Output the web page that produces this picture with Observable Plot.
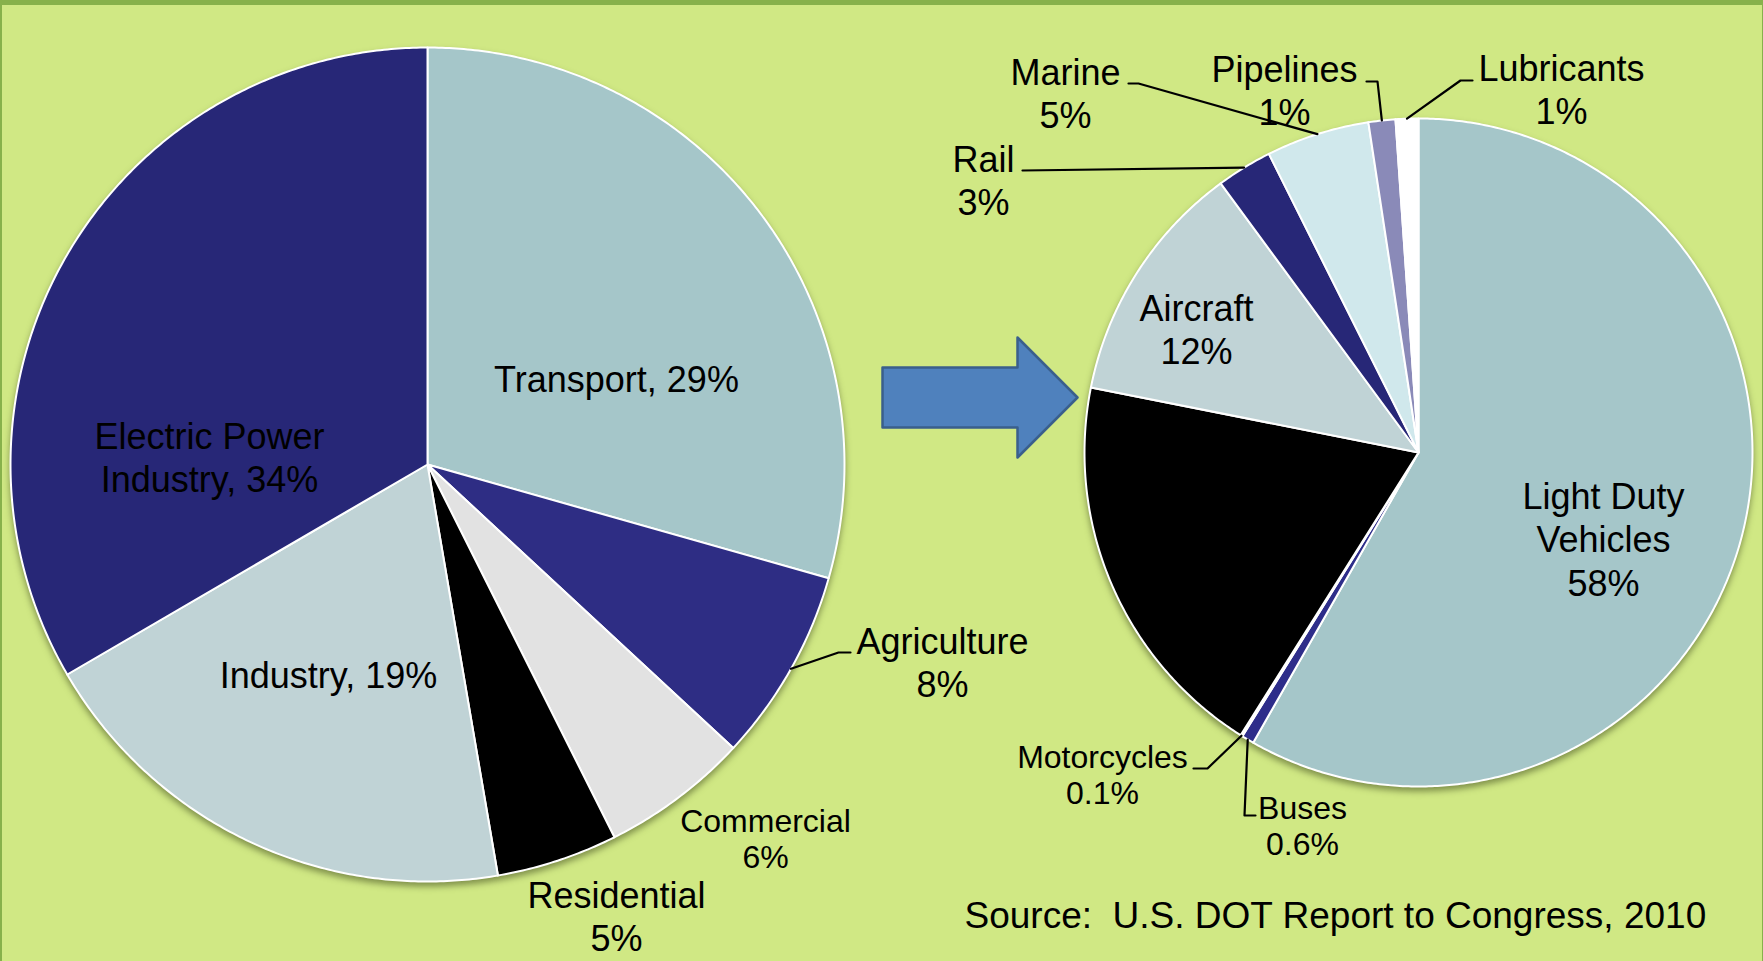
<!DOCTYPE html>
<html><head><meta charset="utf-8">
<script src="https://cdn.jsdelivr.net/npm/d3@7"></script>
<script src="https://cdn.jsdelivr.net/npm/@observablehq/plot@0.6"></script>
<style>
html,body{margin:0;padding:0;background:#d0e884;}
#wrap{position:relative;width:1763px;height:961px;overflow:hidden;background:#d0e884;}
#wrap svg{position:absolute;left:0;top:0;}
#border{position:absolute;left:0;top:0;width:1763px;height:961px;box-sizing:border-box;border-top:5px solid #87b14b;border-left:2px solid #87b14b;border-right:1px solid #87b14b;pointer-events:none;}
</style></head><body><div id="wrap"><div id="border"></div></div>
<script>
// ---------- data ----------
const leftCategories = ["Transport","Agriculture","Commercial","Residential","Industry","Electric Power Industry"];
const leftValues = [29.4, 7.5, 5.7, 4.7, 19.3, 33.4];
const leftLabels = ["Transport, 29%","Agriculture\n8%","Commercial\n6%","Residential\n5%","Industry, 19%","Electric Power\nIndustry, 34%"];

const rightCategories = ["Light Duty Vehicles","Buses","Motorcycles","Medium/Heavy Trucks","Aircraft","Rail","Marine","Pipelines","Lubricants"];
const rightValues = [58.3, 0.6, 0.1, 19.2, 11.8, 2.7, 5.0, 1.3, 1.1];
const rightLabels = ["Light Duty\nVehicles\n58%","Buses\n0.6%","Motorcycles\n0.1%", null,"Aircraft\n12%","Rail\n3%","Marine\n5%","Pipelines\n1%","Lubricants\n1%"];

const sourceText = "Source:  U.S. DOT Report to Congress, 2010";

// ---------- styles / layout ----------
const W = 1763, H = 961;
const leftColors = ["#a5c6c9","#2e2d84","#e2e2e2","#000000","#c0d3d6","#272777"];
const rightColors = ["#a5c6c9","#2e2d8a","#f4f4f4","#000000","#c0d3d6","#272777","#d0e8ec","#8a8ab8","#ffffff"];
const leftPie = {cx: 427, cy: 464, r: 417};
const rightPie = {cx: 1418, cy: 452, r: 334};
const leftLabelPos = [[616,378],[942,661],[765,838],[616,915],[328,674],[209,456]];
const leftLabelSize = [36,36,32,36,36,36];
const leftLeaderBends = [null,[[838,652],[850,652]],null,null,null,null];
const rightLabelPos = [[1603,538],[1302,825],[1102,774],null,[1196,328],[983,179],[1065,92],[1284,89],[1561,88]];
const rightLabelSize = [36,32,32,null,36,36,36,36,36];
const rightLeaderBends = [null,[[1244,815],[1255,815]],[[1207,768],[1193,768]],null,null,[[1022,170]],[[1138,83],[1128,83]],[[1377,81],[1366,81]],[[1460,80],[1472,80]]];
const sourcePos = [964, 916];
const arrow = {x0: 882, xBase: 1017, xTip: 1077, cy: 397, shaftHalf: 30, headHalf: 60};

// ---------- build geometry from data ----------
function buildPie(cats, values, colors, pie) {
  const arcs = d3.pie().sort(null).value(d => d)(values);
  return arcs.map((a, i) => {
    const n = Math.max(2, Math.ceil((a.endAngle - a.startAngle) / (Math.PI / 360)));
    const ring = [[pie.cx, pie.cy]];
    for (let k = 0; k <= n; k++) {
      const t = a.startAngle + (a.endAngle - a.startAngle) * k / n;
      ring.push([pie.cx + pie.r * Math.sin(t), pie.cy - pie.r * Math.cos(t)]);
    }
    ring.push([pie.cx, pie.cy]);
    const mid = (a.startAngle + a.endAngle) / 2;
    return {type: "Feature",
      properties: {name: cats[i], color: colors[i], edge: [pie.cx + pie.r * Math.sin(mid), pie.cy - pie.r * Math.cos(mid)]},
      geometry: {type: "Polygon", coordinates: [ring]}};
  });
}
const leftSlices = buildPie(leftCategories, leftValues, leftColors, leftPie);
const rightSlices = buildPie(rightCategories, rightValues, rightColors, rightPie);
const slices = [...leftSlices, ...rightSlices];

function buildLabels(labels, pos, size) {
  return labels.map((t, i) => t == null ? null : {text: t, x: pos[i][0], y: pos[i][1], size: size[i]}).filter(d => d);
}
const labels = [...buildLabels(leftLabels, leftLabelPos, leftLabelSize), ...buildLabels(rightLabels, rightLabelPos, rightLabelSize)];

function buildLeaders(sl, bends) {
  return sl.map((s, i) => bends[i] == null ? null : {type: "Feature", properties: {}, geometry: {type: "LineString", coordinates: [s.properties.edge, ...bends[i]]}}).filter(d => d);
}
const leaders = [...buildLeaders(leftSlices, leftLeaderBends), ...buildLeaders(rightSlices, rightLeaderBends)];

const arrowShape = {type: "Feature", properties: {}, geometry: {type: "Polygon", coordinates: [[
  [arrow.x0, arrow.cy - arrow.shaftHalf], [arrow.xBase, arrow.cy - arrow.shaftHalf], [arrow.xBase, arrow.cy - arrow.headHalf],
  [arrow.xTip, arrow.cy], [arrow.xBase, arrow.cy + arrow.headHalf], [arrow.xBase, arrow.cy + arrow.shaftHalf],
  [arrow.x0, arrow.cy + arrow.shaftHalf], [arrow.x0, arrow.cy - arrow.shaftHalf]]]}};

const font = "Liberation Sans, Arial, Helvetica, sans-serif";

const chart = Plot.plot({
  width: W, height: H,
  margin: 0,
  projection: {type: "identity"},
  color: {type: "identity"},
  style: {background: "transparent", fontFamily: font, overflow: "visible"},
  marks: [
    Plot.geo(slices, {fill: d => d.properties.color, stroke: "white", strokeWidth: 2, strokeLinejoin: "round", ariaLabel: "pie-slices"}),
    Plot.geo([arrowShape], {fill: "#4f81bd", stroke: "#3a5f8c", strokeWidth: 2.5}),
    Plot.geo(leaders, {fill: "none", stroke: "black", strokeWidth: 2.2}),
    Plot.text(labels.filter(d => d.size === 36), {x: "x", y: "y", text: "text", fontSize: 36, lineHeight: 1.2, fill: "black", fontFamily: font}),
    Plot.text(labels.filter(d => d.size === 32), {x: "x", y: "y", text: "text", fontSize: 32, lineHeight: 1.12, fill: "black", fontFamily: font}),
    Plot.text([sourceText], {x: () => sourcePos[0], y: () => sourcePos[1], text: d => d, fontSize: 37, textAnchor: "start", fill: "black", fontFamily: font})
  ]
});
// soft drop shadow under the pies
const pieGroup = chart.querySelector('g[aria-label="pie-slices"]') || chart.querySelector('g[aria-label="geo"]');
if (pieGroup) pieGroup.style.filter = "drop-shadow(0px 4px 3px rgba(50,60,20,0.5))";
const wrap = document.getElementById("wrap");
wrap.insertBefore(chart, document.getElementById("border"));
</script></body></html>
